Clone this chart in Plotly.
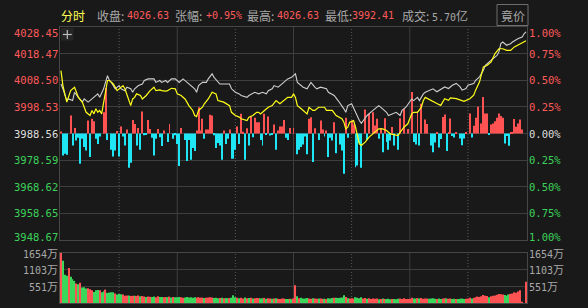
import plotly.graph_objects as go

# ---------------- data ----------------
prev_close = 3988.56

price_min = [0, 1, 3, 4, 6, 7, 9, 11, 12, 14, 16, 18, 19, 20, 22, 24, 25, 26, 28, 30, 31, 33, 34, 36, 37, 38,
             40, 42, 43, 45, 48, 49, 51, 52, 54, 55, 57, 59, 61, 63, 65, 67, 69, 70, 71, 73, 75, 76, 78, 79,
             81, 82, 84, 87, 88, 90, 92, 93, 96, 97, 100, 102, 104, 106, 107, 109, 110, 112, 113, 115, 117,
             119, 121, 122, 124, 125, 127, 128, 129, 131, 132, 134, 137, 138, 141, 143, 145, 146, 147, 148,
             150, 152, 154, 155, 157, 158, 161, 163, 164, 166, 168, 169, 171, 173, 175, 176, 178, 180, 181,
             182, 184, 185, 187, 188, 190, 192, 194, 198, 200, 202, 204, 206, 207, 209, 210, 213, 214, 216,
             218, 219, 221, 223, 225, 226, 227, 228, 230, 232, 233, 236, 238, 239, 240]
price_val = [4007.1, 4005.3, 4000.9, 4001.5, 4000.9, 4004.0, 4002.1, 4000.3, 4001.5, 4000.3, 4001.5, 4002.8,
             4003.4, 4002.1, 4005.3, 4010.2, 4008.4, 4007.7, 4005.3, 4006.5, 4005.3, 4004.6, 4005.9, 4005.3,
             4004.0, 4005.3, 4006.5, 4007.1, 4008.4, 4009.0, 4009.0, 4007.7, 4008.4, 4007.7, 4008.4, 4007.7,
             4009.0, 4009.0, 4007.7, 4009.0, 4007.7, 4006.5, 4005.3, 4004.0, 4006.5, 4007.7, 4007.7, 4009.0,
             4010.9, 4009.6, 4007.7, 4007.1, 4007.1, 4007.1, 4005.3, 4004.0, 4003.4, 4002.8, 4002.1, 4002.8,
             4004.0, 4003.4, 4004.0, 4003.4, 4004.6, 4005.3, 4006.5, 4005.9, 4006.5, 4007.7, 4009.0, 4009.6,
             4010.9, 4007.7, 4006.5, 4005.9, 4005.3, 4006.5, 4007.7, 4005.9, 4005.3, 4005.9, 4005.3, 4004.0,
             4002.8, 4000.9, 3999.0, 3997.8, 3996.5, 3999.0, 3999.7, 3996.5, 3993.4, 3992.41, 3994.1, 3995.3,
             3997.2, 3998.4, 3999.0, 3997.8, 3996.5, 3995.3, 3995.9, 3996.5, 3995.3, 3997.2, 3998.4, 4000.3,
             4001.5, 4000.9, 4002.1, 4000.9, 4003.4, 4004.0, 4004.6, 4005.3, 4004.2, 4006.0, 4005.4, 4006.6,
             4007.3, 4006.0, 4004.8, 4005.4, 4006.6, 4007.3, 4008.5, 4009.8, 4012.2, 4014.1, 4015.4, 4016.6,
             4017.8, 4019.1, 4022.2, 4022.8, 4021.6, 4022.2, 4022.8, 4024.1, 4024.7, 4025.9, 4026.63]

avg_min = [0, 1, 2, 3, 5, 7, 8, 9, 11, 12, 13, 15, 16, 17, 18, 19, 20, 21, 22, 23, 24, 25, 27, 29, 30, 32, 33,
           34, 35, 36, 37, 38, 39, 41, 42, 44, 46, 48, 49, 51, 52, 54, 55, 57, 59, 60, 62, 64, 65, 66, 68, 69,
           70, 71, 73, 74, 76, 78, 80, 81, 84, 87, 88, 90, 92, 93, 96, 97, 99, 101, 102, 103, 105, 107, 109,
           111, 113, 114, 116, 117, 119, 120, 121, 122, 124, 125, 127, 128, 130, 131, 133, 136, 137, 140, 142,
           145, 146, 147, 148, 149, 151, 152, 153, 154, 155, 157, 159, 161, 163, 164, 166, 168, 170, 172, 174,
           175, 177, 179, 180, 181, 182, 184, 186, 187, 188, 191, 193, 194, 196, 198, 200, 201, 204, 206, 208,
           211, 213, 214, 216, 218, 220, 222, 224, 226, 228, 230, 232, 234, 237, 238, 240]
avg_val = [4012.1, 4006.5, 4003.4, 4000.3, 4004.6, 4005.9, 4004.0, 4002.1, 4000.3, 3998.4, 3996.5, 3995.3,
           3997.2, 3995.9, 3997.8, 3996.5, 3997.2, 3995.9, 4000.3, 4005.3, 4008.4, 4008.4, 4007.1, 4004.6,
           4005.3, 4006.5, 4005.3, 4003.4, 4000.9, 3999.0, 4001.5, 4002.1, 4003.4, 4002.8, 4001.5, 4002.8,
           4004.6, 4005.9, 4004.6, 4004.9, 4004.6, 4004.4, 4004.6, 4005.5, 4005.3, 4003.4, 4002.8, 4001.5,
           4000.3, 3999.0, 3997.2, 3995.3, 3994.9, 3997.2, 3998.4, 3999.7, 4001.5, 4004.0, 4003.4, 4000.9,
           4000.3, 3999.0, 3996.5, 3995.3, 3994.7, 3994.1, 3993.4, 3994.7, 3995.3, 3996.5, 3996.5, 3995.9,
           3997.2, 3998.4, 3999.0, 4000.9, 3999.7, 4000.3, 4001.5, 4002.1, 4002.1, 4003.4, 4002.1, 3999.0,
           3997.8, 3997.2, 3995.9, 3998.4, 3997.2, 3997.2, 3998.4, 3998.4, 3997.2, 3997.2, 3995.3, 3994.1,
           3992.8, 3990.3, 3990.9, 3992.8, 3993.4, 3990.9, 3987.2, 3984.7, 3984.1, 3985.3, 3987.2, 3988.4,
           3989.7, 3990.3, 3990.3, 3989.7, 3988.4, 3988.2, 3987.8, 3989.0, 3990.9, 3992.2, 3994.1, 3995.9,
           3996.5, 3996.5, 3998.4, 4000.9, 4002.1, 4000.9, 3999.9, 3999.8, 3999.1, 4001.6, 4001.0, 4001.9,
           4001.6, 4001.0, 4000.6, 4001.6, 4002.9, 4004.8, 4007.9, 4013.5, 4014.1, 4015.4, 4018.5, 4020.3,
           4020.3, 4019.7, 4019.7, 4021.0, 4022.2, 4022.8, 4023.3]

# red/cyan strength bars in the price pane (index points from previous close)
flow = [0.75, -8.2, -7.6, -8.0, 0, 6.7, -4.5, 2.1, -2.6, -1.6,
        -11.3, -2.0, -5.1, -6.4, 4.9, -8.8, 5.5, 4.6, -2.0, -3.9,
        -1.1, 0, 8.0, 17.0, -2.4, 0, -6.1, -8.6, -6.4, 0.9,
        -8.6, 2.6, -1.1, -4.5, 1.5, -12.8, -11.0, 5.1, 3.6, -4.5,
        2.1, -6.1, 8.2, -0.7, -0.4, 5.1, 1.7, -1.6, -8.2, -2.0,
        1.7, -1.4, -4.7, 1.1, 0, -3.2, 3.6, 0, -2.0, -0.7,
        -3.9, -12.2, 2.1, 0, -2.4, -10.3, -2.4, -9.8, -5.4, -6.6,
        1.1, 9.8, 1.1, 5.5, -2.0, 1.5, 1.5, 7.0, 6.7, -0.7,
        -5.4, -3.6, -4.5, -9.8, 1.1, -3.9, -2.0, 1.5, -9.5, -9.5,
        -6.1, 2.6, -3.9, 7.4, 0.7, -9.8, 2.0, -4.5, 6.4, -1.4,
        5.9, 4.2, 4.2, -2.4, -4.5, 7.4, -0.25, 6.4, -0.75, -0.25,
        3.4, -6.1, 1.1, 2.6, 2.6, 5.1, -1.6, -2.4, 2.1, 0,
        2.1, 0, -7.8, -6.1, -5.1, -4.1, -1.1, -7.8, 5.5, 6.1,
        -10.7, 2.0, 0, -2.4, 4.9, 1.5, -1.1, 1.1, -8.8, -1.6,
        -2.6, 4.2, -7.4, 0, -4.1, -6.4, -15.1, 5.9, -1.6, 0,
        4.9, 3.4, -12.6, -12.0, -3.6, -12.8, 0, 9.0, -2.4, 7.4,
        0, 8.0, 3.0, 5.5, -2.0, 2.1, -7.0, 5.7, -3.2, -6.1,
        -2.6, 2.4, -4.5, 0, -6.1, 5.7, 0, 9.2, 0, 1.7,
        0, 15.5, -3.2, -4.1, 8.3, -4.5, 11.1, 0, 5.2, 3.6,
        0, -4.5, -7.0, -3.4, 0.6, -5.2, -2.1, 6.2, 7.1, -6.6,
        0.6, 5.6, -0.9, -1.5, 0.4, 0, -1.9, -4.4, -1.9, 0.4,
        0, 7.5, -1.5, 2.9, 5.9, 10.0, 0, 3.7, 13.7, 7.5,
        7.5, -0.4, 3.4, 3.7, 4.6, 5.9, 7.5, 6.6, 5.9, -3.7,
        -0.9, -4.6, 0.6, 0.4, 5.4, 2.5, 3.7, 5.2, 1.5, 0,
        0]

# volume per minute (万)
volume = [1654, 1390, 926, 893, 1147, 860, 783, 728, 640, 617,
          662, 507, 518, 474, 485, 452, 419, 364, 419, 430,
          419, 353, 386, 441, 331, 343, 353, 353, 309, 276,
          300, 290, 280, 240, 250, 250, 230, 240, 235, 230,
          250, 220, 230, 210, 200, 215, 205, 200, 210, 190,
          220, 200, 195, 185, 200, 190, 210, 180, 200, 190,
          185, 200, 190, 175, 180, 200, 180, 190, 175, 185,
          170, 190, 175, 180, 165, 175, 180, 185, 180, 165,
          170, 160, 165, 170, 160, 165, 155, 160, 175, 254,
          190, 170, 160, 175, 150, 180, 160, 165, 170, 150,
          160, 165, 155, 150, 155, 170, 140, 155, 145, 140,
          150, 160, 140, 135, 145, 150, 130, 135, 140, 125,
          150, 585, 220, 160, 175, 150, 145, 165, 150, 140,
          160, 145, 140, 150, 145, 135, 140, 130, 155, 150,
          165, 170, 175, 165, 170, 180, 254, 200, 160, 150,
          155, 140, 190, 175, 160, 185, 150, 165, 140, 155,
          130, 150, 140, 145, 125, 130, 145, 135, 130, 140,
          125, 130, 135, 120, 140, 145, 130, 160, 130, 135,
          140, 175, 150, 145, 160, 150, 165, 140, 150, 145,
          140, 150, 155, 140, 130, 145, 135, 150, 155, 150,
          140, 150, 135, 140, 130, 135, 140, 150, 135, 140,
          150, 175, 150, 170, 185, 210, 200, 220, 260, 240,
          230, 190, 220, 240, 250, 270, 300, 290, 280, 260,
          240, 280, 300, 310, 350, 340, 380, 420, 30, 0,
          700]
# r = up minute (red), g = down minute (green)
vol_dir = "".join([
    "rgggrgggrg", "rgggrrrggg", "rggrggggrg", "ggrrrgrrgr", "rgrrgrrggr",
    "rggrrgrgrg", "ggrrgggggg", "rrrrgrrrrg", "ggrgrggrgg", "grgrrgrgrg",
    "rrrggrgrrg", "rgrrrrggrg", "rrgrggggrr", "grrgrrgrgg", "grgggggrgr",
    "rrggggrrgr", "rrrrgrgrgg", "grgggrrrrr", "rrggrgrrrr", "ggggrggrrg",
    "rrggrggggr", "rrgrrrrrrr", "rgrrrrrrrg", "ggrrrrrrrr", "r"])

price_labels = ["4028.45", "4018.47", "4008.50", "3998.53", "3988.56",
                "3978.59", "3968.62", "3958.65", "3948.67"]
pct_levels = [1.0, 0.75, 0.5, 0.25, 0.0, -0.25, -0.5, -0.75, -1.0]
pct_labels = ["1.00%", "0.75%", "0.50%", "0.25%", "0.00%",
              "0.25%", "0.50%", "0.75%", "1.00%"]
vol_levels = [1654, 1103, 551]
vol_labels = ["1654万", "1103万", "551万"]
vol_max = 1654

header_close = "4026.63"
header_change = "+0.95%"
header_high = "4026.63"
header_low = "3992.41"
header_turnover = "5.70亿"

# ---------------- style / layout ----------------
W, H = 588, 308
ML, MR, MT, MB = 60, 61, 27, 5
PW = W - ML - MR
PH = H - MT - MB

BG = "#191919"
GRID = "#3e3e3e"
BORDER = "#464646"
DOT = "#5a5a5a"
RED = "#ff5252"
CYAN = "#1ee6f5"
VGREEN = "#3ad75a"
TXT_RED = "#ff5a5a"
TXT_GREEN = "#3cd25a"
TXT_MID = "#dedede"
TXT_GRAY = "#a8a8a8"
WHITE_LINE = "#cfcfcf"
YELLOW = "#ffff1a"
MONO = "DejaVu Sans Mono"
CJK = "Noto Sans CJK SC"


def px(x):
    return (x - ML) / PW


def py(y):
    return (H - MB - y) / PH


minutes = list(range(len(flow)))
levels = [prev_close * (1 + p / 100) for p in pct_levels]
y_top, y_bot = levels[0], levels[-1]

fig = go.Figure()

fig.add_trace(go.Bar(
    x=minutes, y=flow, base=prev_close, width=0.5,
    marker=dict(color=[RED if v >= 0 else CYAN for v in flow], line=dict(width=0)),
    xaxis="x", yaxis="y", hoverinfo="skip", showlegend=False))

fig.add_trace(go.Scatter(
    x=price_min, y=price_val, mode="lines", line=dict(color=WHITE_LINE, width=1.1),
    xaxis="x", yaxis="y", showlegend=False, hoverinfo="skip"))
fig.add_trace(go.Scatter(
    x=avg_min, y=avg_val, mode="lines", line=dict(color=YELLOW, width=1.2),
    xaxis="x", yaxis="y", showlegend=False, hoverinfo="skip"))

fig.add_trace(go.Bar(
    x=minutes, y=volume, width=0.62,
    marker=dict(color=[RED if d == "r" else VGREEN for d in vol_dir], line=dict(width=0)),
    xaxis="x2", yaxis="y2", hoverinfo="skip", showlegend=False))

axis_common = dict(showticklabels=False, zeroline=False, showline=True, mirror=True,
                   linecolor=BORDER, linewidth=1, fixedrange=True, ticks="")

shapes = []
for m in [30, 60, 90, 120, 150, 180, 210]:
    solid = m in (60, 120, 180)
    for yr in ("y domain", "y2 domain"):
        shapes.append(dict(type="line", xref="x", yref=yr, x0=m, x1=m, y0=0, y1=1,
                           line=dict(color=GRID if solid else DOT, width=1,
                                     dash="solid" if solid else "1px,2px"),
                           layer="below"))

# "+" button top-left of the price pane
shapes.append(dict(type="rect", xref="paper", yref="paper", x0=px(61), x1=px(73.5), y0=py(40.5), y1=py(28),
                   fillcolor="#262626", line=dict(width=0), layer="above"))
shapes.append(dict(type="line", xref="paper", yref="paper", x0=px(62.8), x1=px(71.8), y0=py(34.5), y1=py(34.5),
                   line=dict(color="#bdbdbd", width=1.2)))
shapes.append(dict(type="line", xref="paper", yref="paper", x0=px(67.3), x1=px(67.3), y0=py(30), y1=py(39),
                   line=dict(color="#bdbdbd", width=1.2)))
# 竟价 button
shapes.append(dict(type="rect", xref="paper", yref="paper", x0=px(497), x1=px(528), y0=py(25.5), y1=py(4.5),
                   fillcolor="rgba(0,0,0,0)", line=dict(color="#6e6e6e", width=1)))

ann = []
n_lv = len(levels)
for i, (lv, lab, plab) in enumerate(zip(levels, price_labels, pct_labels)):
    col = TXT_RED if pct_levels[i] > 0 else (TXT_MID if pct_levels[i] == 0 else TXT_GREEN)
    ysh = -6 if i == 0 else (3 if i == n_lv - 1 else 0)
    ann.append(dict(xref="paper", yref="y", x=0, y=lv, xanchor="right", yanchor="middle", xshift=-1,
                    yshift=ysh, text=lab, showarrow=False, borderpad=0,
                    font=dict(family=MONO, size=10.5, color=col)))
    ann.append(dict(xref="paper", yref="y", x=1, y=lv, xanchor="left", yanchor="middle", xshift=1,
                    yshift=ysh, text=plab, showarrow=False, borderpad=0,
                    font=dict(family=MONO, size=10.5, color=col)))

for j, (lv, lab) in enumerate(zip(vol_levels, vol_labels)):
    num, unit = lab[:-1], lab[-1]
    txt = num + '<span style="font-family:' + CJK + ';font-size:11px">' + unit + '</span>'
    ann.append(dict(xref="paper", yref="y2", x=0, y=lv, xanchor="right", yanchor="middle", xshift=-1,
                    text=txt, showarrow=False, borderpad=0,
                    font=dict(family=MONO, size=10, color=TXT_GRAY)))
    ann.append(dict(xref="paper", yref="y2", x=1, y=lv, xanchor="left", yanchor="middle", xshift=1,
                    text=txt, showarrow=False, borderpad=0,
                    font=dict(family=MONO, size=10, color=TXT_GRAY)))

hy = py(15)
header = [
    (59, "分时", CJK, 12, "#ffff55"),
    (95, "收盘:", CJK, 12, TXT_GRAY), (124.5, header_close, MONO, 10, TXT_RED),
    (172.5, "张幅:", CJK, 12, TXT_GRAY), (203.5, header_change, MONO, 10, TXT_RED),
    (244.5, "最高:", CJK, 12, TXT_GRAY), (274.5, header_high, MONO, 10, TXT_RED),
    (323, "最低:", CJK, 12, TXT_GRAY), (350, header_low, MONO, 10, TXT_RED),
    (400, "成交:", CJK, 12, TXT_GRAY),
    (429.5, header_turnover[:-1] + '<span style="font-family:' + CJK + ';font-size:12px">'
     + header_turnover[-1] + '</span>', MONO, 10, TXT_GRAY),
]
for x, t, fam, sz, col in header:
    ann.append(dict(xref="paper", yref="paper", x=px(x), y=hy, xanchor="left", yanchor="middle",
                    text=t, showarrow=False, font=dict(family=fam, size=sz, color=col)))
ann.append(dict(xref="paper", yref="paper", x=px(512.5), y=hy, xanchor="center", yanchor="middle",
                text="竟价", showarrow=False, font=dict(family=CJK, size=12, color=TXT_GRAY)))

fig.update_layout(
    width=W, height=H, margin=dict(l=ML, r=MR, t=MT, b=MB, pad=0),
    paper_bgcolor=BG, plot_bgcolor=BG, barmode="overlay", showlegend=False,
    xaxis=dict(domain=[0, 1], range=[-0.5, 240.5], anchor="y", showgrid=False, **axis_common),
    xaxis2=dict(domain=[0, 1], range=[-0.5, 240.5], anchor="y2", showgrid=False, **axis_common),
    yaxis=dict(domain=[py(240), 1], range=[y_bot, y_top], anchor="x", tickvals=levels[1:-1],
               showgrid=True, gridcolor=GRID, gridwidth=1, **axis_common),
    yaxis2=dict(domain=[0, py(252.7)], range=[0, vol_max], anchor="x2", tickvals=vol_levels[1:],
                showgrid=True, gridcolor=GRID, gridwidth=1, **axis_common),
    shapes=shapes, annotations=ann, hovermode=False,
)

fig.write_html("out.html", config={"displayModeBar": False})
